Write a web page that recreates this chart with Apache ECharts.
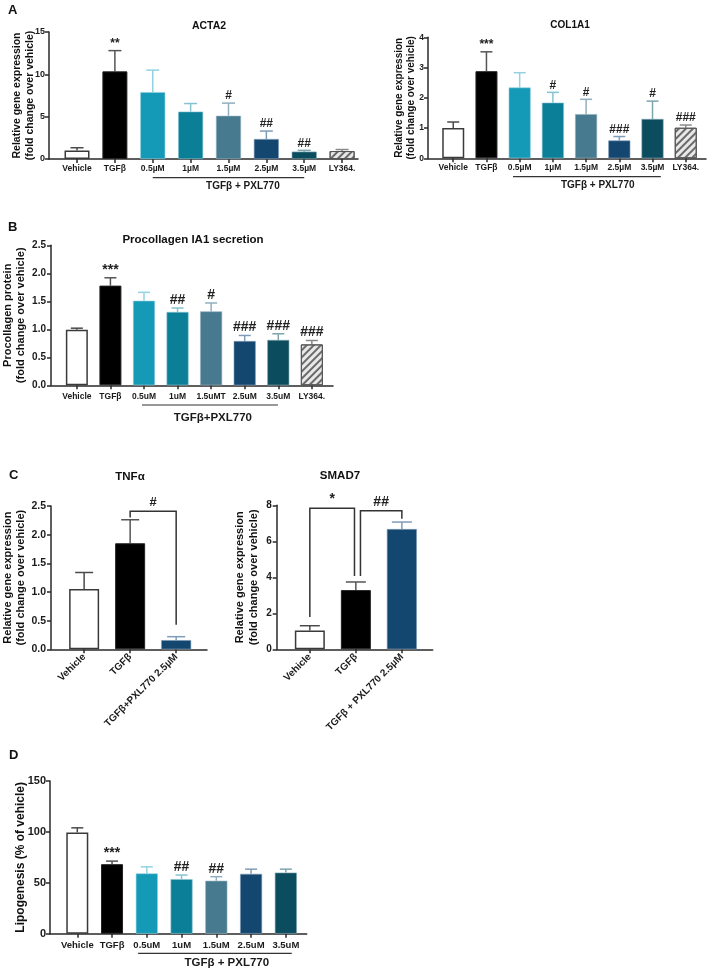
<!DOCTYPE html>
<html><head><meta charset="utf-8">
<script src="https://cdn.jsdelivr.net/npm/echarts@6/dist/echarts.min.js"></script>
<style>html,body{margin:0;padding:0;background:#fff}#c{width:709px;height:970px}</style>
</head><body><div id="c"></div>
<script>
// ---------------- DATA ----------------
const catsA = ['Vehicle', 'TGFβ', '0.5µM', '1µM', '1.5µM', '2.5µM', '3.5µM', 'LY364.'];
const acta2 = [1.0, 10.35, 7.9, 5.6, 5.1, 2.36, 0.87, 0.94];
const acta2Err = [0.33, 2.45, 2.6, 0.95, 1.5, 0.94, 0.15, 0.18];
const acta2Sig = ['', '**', '', '', '#', '##', '##', ''];

const col1a1 = [1.0, 2.88, 2.34, 1.84, 1.46, 0.59, 1.30, 1.01];
const col1a1Err = [0.2, 0.64, 0.49, 0.34, 0.49, 0.13, 0.59, 0.09];
const col1a1Sig = ['', '***', '', '#', '#', '###', '#', '###'];

const catsB = ['Vehicle', 'TGFβ', '0.5uM', '1uM', '1.5uMT', '2.5uM', '3.5uM', 'LY364.'];
const procollagen = [0.99, 1.78, 1.51, 1.31, 1.32, 0.79, 0.81, 0.73];
const procollagenErr = [0.03, 0.14, 0.15, 0.07, 0.15, 0.10, 0.11, 0.07];
const procollagenSig = ['', '***', '', '##', '#', '###', '###', '###'];

const catsTNF = ['Vehicle', 'TGFβ', 'TGFβ+PXL770 2.5µM'];
const tnf = [1.05, 1.85, 0.16];
const tnfErr = [0.29, 0.41, 0.06];

const catsSMAD = ['Vehicle', 'TGFβ', 'TGFβ + PXL770 2.5µM'];
const smad7 = [1.04, 3.29, 6.68];
const smad7Err = [0.27, 0.45, 0.39];

const catsD = ['Vehicle', 'TGFβ', '0.5uM', '1uM', '1.5uM', '2.5uM', '3.5uM'];
const lipo = [99.5, 68.3, 59.2, 53.6, 52.0, 58.8, 60.0];
const lipoErr = [4.5, 3.0, 6.5, 4.0, 4.0, 4.6, 3.4];
const lipoSig = ['', '***', '', '##', '##', '', ''];

const groupLabel = 'TGFβ + PXL770';
const groupLabelB = 'TGFβ+PXL770';
// comparison brackets: [fromX, toX, leftBottom, rightBottom, top, text]
const tnfBrackets = [[1, 2, 2.30, 0.43, 2.41, '#']];
const smadBrackets = [[0, 0.97, 1.8, 4.07, 7.84, '*'], [1.1, 2, 4.07, 7.25, 7.7, '##']];

// ---------------- STYLE ----------------
const FONT = '"Liberation Sans", Arial, sans-serif';
const AX = '#2a2a2a';
const fills = {
  veh: '#ffffff', tgf: '#000000', c05: '#1499b6', c1: '#0b7f98', c15: '#477a8e',
  c25: '#134770', c35: '#0b4c5e', ly: '#e4e4e4'
};
const errCols = {
  veh: '#4a4a4a', tgf: '#555555', c05: '#92d2e1', c1: '#86c3d2', c15: '#90b0bf',
  c25: '#7f9cb8', c35: '#7ea4ae', ly: '#8a8a8a'
};
const keys8 = ['veh', 'tgf', 'c05', 'c1', 'c15', 'c25', 'c35', 'ly'];
const keys7 = ['veh', 'tgf', 'c05', 'c1', 'c15', 'c25', 'c35'];
const keys3 = ['veh', 'tgf', 'c25'];

function itemStyleFor(k) {
  if (k === 'veh') return { color: '#fff', borderColor: '#3a3a3a', borderWidth: 1.5 };
  if (k === 'tgf') return { color: '#000', borderColor: '#222', borderWidth: 1 };
  if (k === 'ly') return {
    color: '#e8e8e8', borderColor: '#555', borderWidth: 1,
    decal: { symbol: 'rect', color: '#6a6a6a', dashArrayX: [1, 0], dashArrayY: [1.2, 2.2], rotation: -Math.PI / 4 }
  };
  return { color: fills[k], borderColor: errCols[k], borderWidth: 0.6 };
}

const panels = [
  { grid: { left: 49, top: 32, width: 309, height: 127 }, xMin: -0.74, xMax: 7.42, yMax: 15, yInt: 5, yDec: 0,
    cats: catsA, vals: acta2, errs: acta2Err, sigs: acta2Sig, keys: keys8, barW: 25, cap: 6.5,
    tickFont: 9, tickMargin: 4, labelFont: 8.5, labelMargin: 5, rotate: 0,
    name: 'Relative gene expression\n(fold change over vehicle)', nameFont: 10.5, nameLH: 13, nameGap: 12.5, sigFont: 12,
    group: { from: 2, to: 6, at: 4.38, text: groupLabel, lineOff: 18.7, textOff: 27, font: 10 } },
  { grid: { left: 428, top: 37.3, width: 278, height: 121 }, xMin: -0.76, xMax: 7.61, yMax: 4, yInt: 1, yDec: 0,
    cats: catsA, vals: col1a1, errs: col1a1Err, sigs: col1a1Sig, keys: keys8, barW: 22, cap: 6,
    tickFont: 8.5, tickMargin: 4, labelFont: 8.5, labelMargin: 5, rotate: 0,
    name: 'Relative gene expression\n(fold change over vehicle)', nameFont: 10, nameLH: 12.7, nameGap: 10, sigFont: 12,
    group: { from: 1.8, to: 6.25, at: 4.35, text: groupLabel, lineOff: 18.4, textOff: 26.7, font: 10 } },
  { grid: { left: 51, top: 245.3, width: 282, height: 140 }, xMin: -0.77, xMax: 7.63, yMax: 2.5, yInt: 0.5, yDec: 1,
    cats: catsB, vals: procollagen, errs: procollagenErr, sigs: procollagenSig, keys: keys8, barW: 22, cap: 6,
    tickFont: 10, tickMargin: 5, labelFont: 8.5, labelMargin: 7, rotate: 0,
    name: 'Procollagen protein\n(fold change over vehicle)', nameFont: 11, nameLH: 13, nameGap: 24, sigFont: 14,
    group: { from: 1.94, to: 5.99, at: 4.05, text: groupLabelB, lineOff: 19.7, textOff: 33, font: 11.5 } },
  { grid: { left: 50, top: 506, width: 157, height: 143.3 }, xMin: -0.72, xMax: 2.67, yMax: 2.5, yInt: 0.5, yDec: 1,
    cats: catsTNF, vals: tnf, errs: tnfErr, sigs: ['', '', ''], keys: keys3, barW: 30, cap: 9,
    tickFont: 10.5, tickMargin: 5, labelFont: 10, labelMargin: 6, rotate: 45,
    name: 'Relative gene expression\n(fold change over vehicle)', nameFont: 11, nameLH: 13, nameGap: 24, sigFont: 13,
    brackets: tnfBrackets, bracketFont: 13 },
  { grid: { left: 276.7, top: 505.3, width: 156, height: 144 }, xMin: -0.72, xMax: 2.67, yMax: 8, yInt: 2, yDec: 0,
    cats: catsSMAD, vals: smad7, errs: smad7Err, sigs: ['', '', ''], keys: keys3, barW: 30, cap: 10,
    tickFont: 10, tickMargin: 5, labelFont: 10, labelMargin: 6, rotate: 45,
    name: 'Relative gene expression\n(fold change over vehicle)', nameFont: 11, nameLH: 14, nameGap: 16, sigFont: 13,
    brackets: smadBrackets, bracketFont: 14 },
  { grid: { left: 50, top: 781, width: 256.7, height: 152.7 }, xMin: -0.785, xMax: 6.6, yMax: 150, yInt: 50, yDec: 0,
    cats: catsD, vals: lipo, errs: lipoErr, sigs: lipoSig, keys: keys7, barW: 22, cap: 6,
    tickFont: 11, tickMargin: 4, labelFont: 9.5, labelMargin: 7, rotate: 0,
    name: 'Lipogenesis (% of vehicle)', nameFont: 12, nameLH: 14, nameGap: 22, sigFont: 14,
    group: { from: 1.75, to: 6.17, at: 4.3, text: groupLabel, lineOff: 19.6, textOff: 29.6, font: 11.5 } }
];

const grid = [], xAxis = [], yAxis = [], series = [];
const boldFont = (s) => 'bold ' + s + 'px ' + FONT;

panels.forEach((p, gi) => {
  const idx = p.cats.map((_, i) => i);
  grid.push(Object.assign({ containLabel: false }, p.grid));
  xAxis.push({
    type: 'value', gridIndex: gi, min: p.xMin, max: p.xMax, splitLine: { show: false },
    axisLine: { show: true, onZero: false, lineStyle: { color: AX, width: 1.5 } },
    axisTick: { show: true, customValues: idx, length: 4, lineStyle: { color: AX, width: 1.5 } },
    axisLabel: {
      show: true, customValues: idx, formatter: (v) => p.cats[Math.round(v)] || '',
      fontFamily: FONT, fontWeight: 'bold', fontSize: p.labelFont, color: '#1a1a1a',
      margin: p.labelMargin, rotate: p.rotate
    }
  });
  yAxis.push({
    type: 'value', gridIndex: gi, min: 0, max: p.yMax, interval: p.yInt, splitLine: { show: false },
    axisLine: { show: true, onZero: false, lineStyle: { color: AX, width: 1.5 } },
    axisTick: { show: true, length: 4, lineStyle: { color: AX, width: 1.5 } },
    axisLabel: { fontFamily: FONT, fontWeight: 'bold', fontSize: p.tickFont, color: '#1a1a1a', margin: p.tickMargin,
      formatter: (v) => v.toFixed(p.yDec) },
    name: p.name, nameLocation: 'middle', nameGap: p.nameGap, nameMoveOverlap: false,
    nameTextStyle: { fontFamily: FONT, fontWeight: 'bold', fontSize: p.nameFont, lineHeight: p.nameLH, color: '#111' }
  });
  // error bars (drawn below bars)
  series.push({
    type: 'custom', xAxisIndex: gi, yAxisIndex: gi, clip: false, silent: true, z: 1,
    encode: { x: 0, y: 1 },
    data: p.vals.map((v, i) => [i, v, p.errs[i]]),
    renderItem: (params, api) => {
      const x = api.value(0), v = api.value(1), e = api.value(2);
      const a = api.coord([x, v]), b = api.coord([x, v + e]);
      const col = errCols[p.keys[params.dataIndex]];
      return { type: 'group', children: [
        { type: 'line', shape: { x1: a[0], y1: a[1], x2: b[0], y2: b[1] }, style: { stroke: col, lineWidth: 1.5 } },
        { type: 'line', shape: { x1: b[0] - p.cap, y1: b[1], x2: b[0] + p.cap, y2: b[1] }, style: { stroke: col, lineWidth: 1.5 } }
      ] };
    }
  });
  // bars
  series.push({
    type: 'bar', xAxisIndex: gi, yAxisIndex: gi, barWidth: p.barW, z: 2, silent: true,
    data: p.vals.map((v, i) => ({ value: [i, v], itemStyle: itemStyleFor(p.keys[i]) }))
  });
  // significance marks
  series.push({
    type: 'custom', xAxisIndex: gi, yAxisIndex: gi, clip: false, silent: true, z: 3,
    encode: { x: 0, y: 1 },
    data: p.vals.map((v, i) => [i, v + p.errs[i], p.sigs[i]]),
    renderItem: (params, api) => {
      const pt = api.coord([api.value(0), api.value(1)]);
      const t = p.sigs[params.dataIndex];
      if (!t) return null;
      return { type: 'text', x: pt[0], y: pt[1] - 1, style: {
        text: t, font: boldFont(p.sigFont), fill: '#222',
        align: 'center', verticalAlign: 'bottom', textAlign: 'center', textVerticalAlign: 'bottom' } };
    }
  });
  // group bracket under axis
  if (p.group) {
    const g = p.group;
    series.push({
      type: 'custom', xAxisIndex: gi, yAxisIndex: gi, clip: false, silent: true, z: 3,
      encode: { x: 0, y: 1 },
      data: [[g.from, 0, g.to, g.at]],
      renderItem: (params, api) => {
        const a = api.coord([api.value(0), 0]);
        const b = api.coord([api.value(2), 0]);
        const c = api.coord([api.value(3), 0]);
        return { type: 'group', children: [
          { type: 'line', shape: { x1: a[0], y1: a[1] + g.lineOff, x2: b[0], y2: b[1] + g.lineOff },
            style: { stroke: '#333', lineWidth: 1.2 } },
          { type: 'text', x: c[0], y: c[1] + g.textOff, style: {
            text: g.text, font: boldFont(g.font), fill: '#1a1a1a',
            align: 'center', verticalAlign: 'middle', textAlign: 'center', textVerticalAlign: 'middle' } }
        ] };
      }
    });
  }
  // comparison brackets
  if (p.brackets) {
    series.push({
      type: 'custom', xAxisIndex: gi, yAxisIndex: gi, clip: false, silent: true, z: 3,
      encode: { x: 0, y: 4 },
      data: p.brackets.map(b => [b[0], b[1], b[2], b[3], b[4]]),
      renderItem: (params, api) => {
        const x1 = api.value(0), x2 = api.value(1), lb = api.value(2), rb = api.value(3), top = api.value(4);
        const t = p.brackets[params.dataIndex][5];
        const p1 = api.coord([x1, lb]), p2 = api.coord([x1, top]), p3 = api.coord([x2, top]), p4 = api.coord([x2, rb]);
        const mid = api.coord([(x1 + x2) / 2, top]);
        return { type: 'group', children: [
          { type: 'polyline', shape: { points: [p1, p2, p3, p4] }, style: { stroke: '#333', lineWidth: 1.5, fill: null } },
          { type: 'text', x: mid[0], y: mid[1] - 2, style: {
            text: t, font: boldFont(p.bracketFont), fill: '#222',
            align: 'center', verticalAlign: 'bottom', textAlign: 'center', textVerticalAlign: 'bottom' } }
        ] };
      }
    });
  }
});

const tStyle = (s) => ({ fontFamily: FONT, fontWeight: 'bold', fontSize: s, color: '#111' });
const title = [
  { text: 'A', left: 8, top: 4, padding: 0, textStyle: tStyle(13) },
  { text: 'ACTA2', left: 209, top: 20.5, padding: 0, textAlign: 'center', textStyle: tStyle(10.5) },
  { text: 'COL1A1', left: 570, top: 20.5, padding: 0, textAlign: 'center', textStyle: tStyle(10) },
  { text: 'B', left: 8, top: 221, padding: 0, textStyle: tStyle(13) },
  { text: 'Procollagen IA1 secretion', left: 193, top: 234, padding: 0, textAlign: 'center', textStyle: tStyle(11.5) },
  { text: 'C', left: 9, top: 469, padding: 0, textStyle: tStyle(13) },
  { text: 'TNFα', left: 130, top: 471, padding: 0, textAlign: 'center', textStyle: tStyle(11.5) },
  { text: 'SMAD7', left: 340, top: 470, padding: 0, textAlign: 'center', textStyle: tStyle(11.5) },
  { text: 'D', left: 9, top: 749, padding: 0, textStyle: tStyle(13) }
];

const chart = echarts.init(document.getElementById('c'), null, { renderer: 'canvas' });
chart.setOption({ animation: false, backgroundColor: '#fff', title, grid, xAxis, yAxis, series });
</script>
</body></html>
